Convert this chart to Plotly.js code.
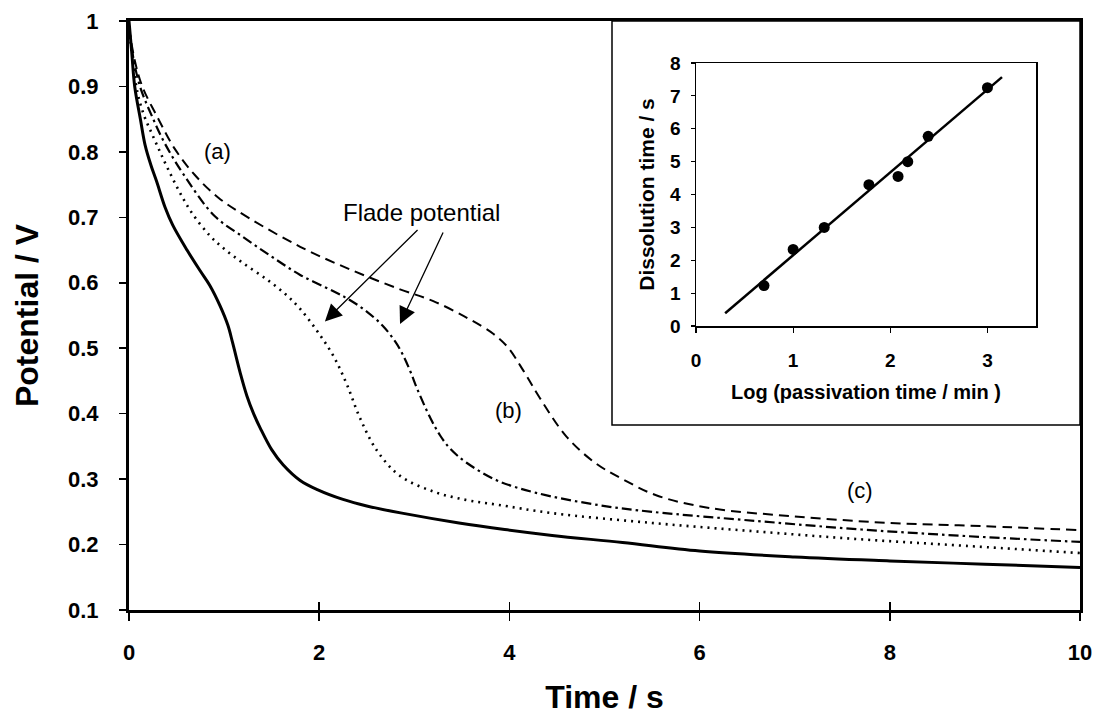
<!DOCTYPE html>
<html>
<head>
<meta charset="utf-8">
<script src="https://cdn.plot.ly/plotly-3.0.1.min.js"></script>
<style>html,body{margin:0;padding:0;background:#fff;}#chart{width:1095px;height:715px;}</style>
</head>
<body>
<div id="chart"></div>
<script>
// Main chart: potential transients (Time / s vs Potential / V)
const tSolid = [0, 0.03, 0.06, 0.12, 0.17, 0.23, 0.29, 0.38, 0.46, 0.61, 0.75, 0.85, 0.96, 1.04, 1.09, 1.17, 1.24, 1.31, 1.38, 1.5, 1.62, 1.8, 1.98, 2.25, 2.5, 2.87, 3.47, 3.95, 4.45, 5.19, 6.0, 7.0, 8.0, 9.0, 10];
const vSolid = [1.0, 0.95, 0.9, 0.85, 0.81, 0.78, 0.755, 0.715, 0.688, 0.65, 0.618, 0.596, 0.564, 0.535, 0.508, 0.462, 0.427, 0.4, 0.378, 0.345, 0.322, 0.298, 0.284, 0.269, 0.259, 0.248, 0.233, 0.223, 0.214, 0.203, 0.19, 0.181, 0.175, 0.17, 0.165];

const tDotted = [0, 0.04, 0.09, 0.16, 0.24, 0.32, 0.4, 0.52, 0.66, 0.85, 1.0, 1.2, 1.45, 1.65, 1.8, 1.98, 2.15, 2.29, 2.43, 2.61, 2.85, 3.2, 3.55, 3.87, 4.45, 5.5, 6.6, 7.7, 8.8, 10];
const vDotted = [0.99, 0.94, 0.89, 0.855, 0.828, 0.802, 0.777, 0.742, 0.707, 0.672, 0.652, 0.63, 0.605, 0.582, 0.56, 0.526, 0.488, 0.445, 0.393, 0.343, 0.305, 0.281, 0.268, 0.261, 0.248, 0.233, 0.22, 0.208, 0.198, 0.187];

const tDashDot = [0, 0.05, 0.12, 0.24, 0.38, 0.59, 0.9, 1.2, 1.5, 1.8, 2.15, 2.33, 2.5, 2.67, 2.8, 2.88, 2.96, 3.03, 3.17, 3.27, 3.38, 3.55, 3.87, 4.28, 4.95, 5.5, 6.6, 7.7, 8.8, 10];
const vDashDot = [0.99, 0.94, 0.898, 0.855, 0.812, 0.762, 0.702, 0.67, 0.64, 0.612, 0.587, 0.573, 0.556, 0.534, 0.51, 0.49, 0.464, 0.438, 0.393, 0.367, 0.346, 0.325, 0.298, 0.279, 0.26, 0.25, 0.236, 0.223, 0.213, 0.204];

const tDashed = [0, 0.06, 0.14, 0.31, 0.48, 0.69, 0.94, 1.25, 1.8, 2.33, 2.85, 3.2, 3.56, 3.83, 3.98, 4.15, 4.32, 4.6, 4.9, 5.19, 5.55, 6.1, 7.0, 8.0, 9.0, 10];
const vDashed = [0.99, 0.94, 0.90, 0.85, 0.805, 0.765, 0.73, 0.70, 0.655, 0.62, 0.59, 0.572, 0.546, 0.522, 0.502, 0.465, 0.424, 0.365, 0.325, 0.30, 0.275, 0.256, 0.243, 0.233, 0.228, 0.222];

const mainXTicks = [0, 2, 4, 6, 8, 10];
const mainYTicks = [0.1, 0.2, 0.3, 0.4, 0.5, 0.6, 0.7, 0.8, 0.9, 1];
const mainYTickText = ['0.1', '0.2', '0.3', '0.4', '0.5', '0.6', '0.7', '0.8', '0.9', '1'];

// Inset: dissolution time vs log(passivation time)
const logPassTime = [0.70, 1.0, 1.32, 1.78, 2.08, 2.18, 2.39, 3.0];
const dissTime = [1.23, 2.33, 3.0, 4.3, 4.55, 5.0, 5.77, 7.25];
const fitX = [0.3, 3.15];
const fitY = [0.39, 7.57];
const insetXTicks = [0, 1, 2, 3];
const insetYTicks = [0, 1, 2, 3, 4, 5, 6, 7, 8];

// Labels
const curveLabels = [
  {text: '(a)', t: 0.93, v: 0.80},
  {text: '(b)', t: 3.99, v: 0.405},
  {text: '(c)', t: 7.69, v: 0.283}
];
const fladeLabel = {text: 'Flade potential', t: 3.08, v: 0.707};
const fladeArrows = [
  {headT: 2.06, headV: 0.541, tailT: 3.05, tailV: 0.683},
  {headT: 2.85, headV: 0.537, tailT: 3.31, tailV: 0.679}
];

const FONT = 'Liberation Sans, Arial, sans-serif';

function line(t, v, w, dash) {
  return {x: t, y: v, type: 'scatter', mode: 'lines', xaxis: 'x', yaxis: 'y',
    line: {color: '#000', width: w, dash: dash, shape: 'spline', smoothing: 1.0}, hoverinfo: 'skip', showlegend: false};
}

const traces = [
  line(tSolid, vSolid, 3, 'solid'),
  line(tDotted, vDotted, 2.6, '2px,5px'),
  line(tDashDot, vDashDot, 2.2, '10px,4px,2.5px,4px'),
  line(tDashed, vDashed, 2, '10px,6px'),
  {x: [], y: [], xaxis: 'x3', yaxis: 'y', type: 'scatter', showlegend: false},
  {x: fitX, y: fitY, xaxis: 'x2', yaxis: 'y2', type: 'scatter', mode: 'lines',
    line: {color: '#000', width: 2.5}, hoverinfo: 'skip', showlegend: false},
  {x: logPassTime, y: dissTime, xaxis: 'x2', yaxis: 'y2', type: 'scatter', mode: 'markers',
    marker: {color: '#000', size: 11}, hoverinfo: 'skip', showlegend: false}
];

// pixel helpers for paper coords
const L = 129, R = 1080, T = 21, B = 610;
const px = p => (p - L) / (R - L);
const py = p => (B - p) / (B - T);

const annotations = [];
curveLabels.forEach(c => annotations.push({x: c.t, y: c.v, xref: 'x', yref: 'y', text: c.text, showarrow: false,
  font: {family: FONT, size: 22, color: '#000'}}));
annotations.push({x: fladeLabel.t, y: fladeLabel.v, xref: 'x', yref: 'y', text: fladeLabel.text, showarrow: false,
  font: {family: FONT, size: 24, color: '#000'}});
fladeArrows.forEach(a => annotations.push({x: a.headT, y: a.headV, xref: 'x', yref: 'y', ax: a.tailT, ay: a.tailV,
  axref: 'x', ayref: 'y', text: '', showarrow: true, arrowhead: 2, arrowsize: 2.6, arrowwidth: 1.3, arrowcolor: '#000'}));

const layout = {
  width: 1095, height: 715,
  margin: {l: L, r: 1095 - R, t: T, b: 715 - B, pad: 0},
  paper_bgcolor: '#fff', plot_bgcolor: '#fff',
  font: {family: FONT, color: '#000'},
  showlegend: false,
  xaxis: {domain: [0, 1], range: [0, 10], tickvals: mainXTicks, ticktext: mainXTicks.map(String),
    ticks: 'outside', ticklen: 8, tickwidth: 1.5, tickcolor: '#000',
    showline: true, linewidth: 3, linecolor: '#000', mirror: true, showgrid: false, zeroline: false,
    ticklabelstandoff: 13,
    tickfont: {family: FONT, size: 22, color: '#000', weight: 'bold'},
    title: {text: 'Time / s', standoff: 25, font: {family: FONT, size: 32, color: '#000', weight: 'bold'}}},
  xaxis3: {overlaying: 'x', anchor: 'y', range: [0, 10], tickvals: mainXTicks, ticks: 'inside', ticklen: 8,
    tickwidth: 1.5, tickcolor: '#000', showticklabels: false, showline: false, showgrid: false, zeroline: false},
  yaxis: {domain: [0, 1], range: [0.1, 1], tickvals: mainYTicks, ticktext: mainYTickText,
    ticks: 'outside', ticklen: 7, tickwidth: 1.5, tickcolor: '#000',
    showline: true, linewidth: 3, linecolor: '#000', mirror: true, showgrid: false, zeroline: false,
    ticklabelstandoff: 16,
    tickfont: {family: FONT, size: 22, color: '#000', weight: 'bold'},
    title: {text: 'Potential / V', standoff: 20, font: {family: FONT, size: 32, color: '#000', weight: 'bold'}}},
  xaxis2: {domain: [px(696), px(1036)], anchor: 'y2', range: [0, 3.5], tickvals: insetXTicks,
    ticks: 'outside', ticklen: 5, tickwidth: 1.2, tickcolor: '#000',
    showline: true, linewidth: 1.5, linecolor: '#000', mirror: true, showgrid: false, zeroline: false,
    ticklabelstandoff: 12,
    tickfont: {family: FONT, size: 19, color: '#000', weight: 'bold'},
    title: {text: 'Log (passivation time / min )', standoff: 14, font: {family: FONT, size: 20, color: '#000', weight: 'bold'}}},
  yaxis2: {domain: [py(326), py(63)], anchor: 'x2', range: [0, 8], tickvals: insetYTicks,
    ticks: 'outside', ticklen: 4, tickwidth: 1.2, tickcolor: '#000',
    showline: true, linewidth: 1.5, linecolor: '#000', mirror: true, showgrid: false, zeroline: false,
    ticklabelstandoff: 6,
    tickfont: {family: FONT, size: 19, color: '#000', weight: 'bold'},
    title: {text: 'Dissolution time / s', standoff: 10, font: {family: FONT, size: 21, color: '#000', weight: 'bold'}}},
  shapes: [
    {type: 'rect', xref: 'paper', yref: 'paper', x0: px(612), x1: 1, y0: py(425), y1: 1,
      line: {color: '#000', width: 1.5}, fillcolor: 'rgba(0,0,0,0)', layer: 'above'}
  ],
  annotations: annotations
};

Plotly.newPlot('chart', traces, layout, {staticPlot: true, displayModeBar: false});
</script>
</body>
</html>
